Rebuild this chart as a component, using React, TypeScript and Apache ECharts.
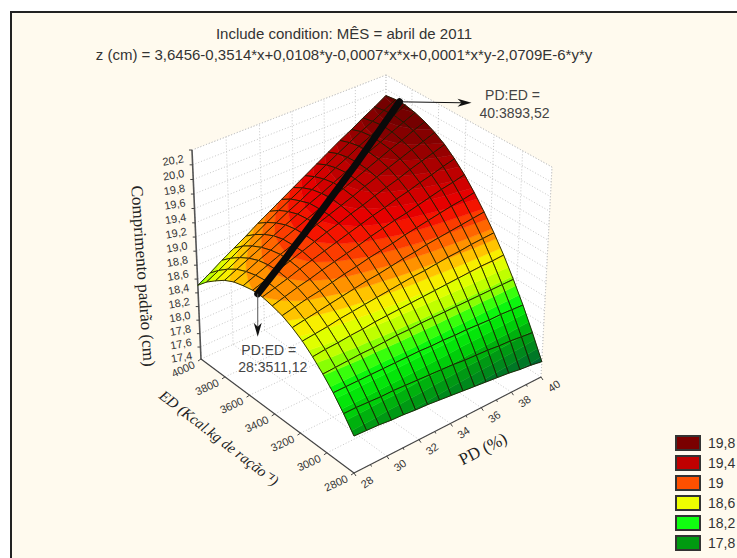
import React, { useEffect, useRef } from "react";
import * as echarts from "echarts";

const titleLines = [
  "Include condition: MÊS = abril de 2011",
  "z (cm) = 3,6456-0,3514*x+0,0108*y-0,0007*x*x+0,0001*x*y-2,0709E-6*y*y",
];

const pdGrid = [28, 28.75, 29.5, 30.25, 31, 31.75, 32.5, 33.25, 34, 34.75, 35.5, 36.25, 37, 37.75, 38.5, 39.25, 40];
const edGrid = [2800, 2875, 2950, 3025, 3100, 3175, 3250, 3325, 3400, 3475, 3550, 3625, 3700, 3775, 3850, 3925, 4000];

// Surface heights: one row per PD value, one column per ED value.
const zByPd = [
  [17.75, 17.96, 18.15, 18.31, 18.45, 18.57, 18.66, 18.73, 18.77, 18.8, 18.8, 18.77, 18.73, 18.66, 18.56, 18.45, 18.31],
  [17.74, 17.96, 18.15, 18.32, 18.47, 18.59, 18.69, 18.77, 18.82, 18.85, 18.86, 18.84, 18.8, 18.74, 18.65, 18.54, 18.41],
  [17.73, 17.95, 18.15, 18.33, 18.48, 18.61, 18.72, 18.81, 18.87, 18.9, 18.92, 18.91, 18.88, 18.82, 18.74, 18.64, 18.52],
  [17.71, 17.94, 18.15, 18.34, 18.5, 18.64, 18.75, 18.84, 18.91, 18.96, 18.98, 18.98, 18.95, 18.9, 18.83, 18.74, 18.62],
  [17.7, 17.94, 18.15, 18.34, 18.51, 18.66, 18.78, 18.88, 18.96, 19.01, 19.04, 19.04, 19.03, 18.99, 18.92, 18.83, 18.72],
  [17.68, 17.93, 18.15, 18.35, 18.53, 18.68, 18.81, 18.92, 19.0, 19.06, 19.1, 19.11, 19.1, 19.07, 19.01, 18.93, 18.83],
  [17.67, 17.92, 18.15, 18.36, 18.54, 18.7, 18.84, 18.95, 19.04, 19.11, 19.16, 19.18, 19.17, 19.15, 19.1, 19.03, 18.93],
  [17.65, 17.91, 18.15, 18.36, 18.55, 18.72, 18.86, 18.99, 19.08, 19.16, 19.21, 19.24, 19.24, 19.23, 19.18, 19.12, 19.03],
  [17.63, 17.9, 18.14, 18.37, 18.56, 18.74, 18.89, 19.02, 19.13, 19.21, 19.27, 19.3, 19.32, 19.3, 19.27, 19.21, 19.13],
  [17.61, 17.89, 18.14, 18.37, 18.57, 18.76, 18.92, 19.05, 19.17, 19.26, 19.32, 19.36, 19.38, 19.38, 19.35, 19.3, 19.23],
  [17.59, 17.87, 18.13, 18.37, 18.58, 18.77, 18.94, 19.09, 19.21, 19.3, 19.38, 19.43, 19.45, 19.46, 19.44, 19.4, 19.33],
  [17.57, 17.86, 18.13, 18.37, 18.59, 18.79, 18.97, 19.12, 19.24, 19.35, 19.43, 19.49, 19.52, 19.53, 19.52, 19.49, 19.43],
  [17.55, 17.85, 18.12, 18.37, 18.6, 18.81, 18.99, 19.15, 19.28, 19.39, 19.48, 19.55, 19.59, 19.61, 19.61, 19.58, 19.53],
  [17.53, 17.83, 18.11, 18.37, 18.61, 18.82, 19.01, 19.18, 19.32, 19.44, 19.54, 19.61, 19.66, 19.68, 19.69, 19.67, 19.62],
  [17.5, 17.82, 18.11, 18.37, 18.62, 18.84, 19.03, 19.21, 19.36, 19.48, 19.59, 19.67, 19.72, 19.76, 19.77, 19.75, 19.72],
  [17.48, 17.8, 18.1, 18.37, 18.62, 18.85, 19.05, 19.23, 19.39, 19.53, 19.64, 19.72, 19.79, 19.83, 19.85, 19.84, 19.81],
  [17.45, 17.78, 18.09, 18.37, 18.63, 18.86, 19.07, 19.26, 19.43, 19.57, 19.69, 19.78, 19.85, 19.9, 19.93, 19.93, 19.91],
];

// Optimum line: [PD, ED, z]
const ridgeLine = [
  [28, 3511, 18.8], [28.75, 3535, 18.86], [29.5, 3559, 18.92], [30.25, 3583, 18.98], [31, 3607, 19.05],
  [31.75, 3631, 19.11], [32.5, 3655, 19.18], [33.25, 3678, 19.25], [34, 3702, 19.32], [34.75, 3726, 19.39],
  [35.5, 3750, 19.46], [36.25, 3774, 19.53], [37, 3798, 19.61], [37.75, 3822, 19.69], [38.5, 3846, 19.77],
  [39.25, 3870, 19.85], [40, 3894, 19.93],
];

const pdTicks = [28, 30, 32, 34, 36, 38, 40];
const pdMinorTicks = [29, 31, 33, 35, 37, 39];
const edTicks = [2800, 3000, 3200, 3400, 3600, 3800, 4000];
const zTicks = [17.4, 17.6, 17.8, 18, 18.2, 18.4, 18.6, 18.8, 19, 19.2, 19.4, 19.6, 19.8, 20, 20.2];

const legendLabels = ["19,8", "19,4", "19", "18,6", "18,2", "17,8"];
const legendColors = ["#7a0000", "#c00000", "#ff5000", "#eeff00", "#10ff10", "#009a10"];

const colorLevels = [17.2, 17.4, 17.6, 17.8, 18.0, 18.2, 18.4, 18.6, 18.7, 18.8, 19.0, 19.2, 19.4, 19.6, 19.8, 20.0, 20.3];
const colorStops = ["#005540", "#006038", "#008020", "#00a210", "#00dc08", "#10ff10", "#b0ff00", "#f0ff00", "#ffe000", "#ffa800", "#ff5000", "#f00000", "#c80000", "#a00000", "#7c0000", "#600000", "#500000"];

const PD_MIN = 28, PD_MAX = 40, ED_MIN = 2800, ED_MAX = 4000, Z_MIN = 17.22, Z_MAX = 20.2;
const BAND = 0.1;

// One-point-per-axis perspective of the plot box
const ORIGIN = [354, 473];
const VP_U = [3397, -1089], VP_V = [-1823, -1149], VP_W = [355, 3931];
const K_U = 0.06548, K_V = 0.07559, K_W = -0.05945;

function project(pd: number, ed: number, z: number) {
  const u = (pd - PD_MIN) / (PD_MAX - PD_MIN);
  const v = (ed - ED_MIN) / (ED_MAX - ED_MIN);
  const w = (z - Z_MIN) / (Z_MAX - Z_MIN);
  const d = 1 + K_U * u + K_V * v + K_W * w;
  return [
    (ORIGIN[0] + K_U * u * VP_U[0] + K_V * v * VP_V[0] + K_W * w * VP_W[0]) / d,
    (ORIGIN[1] + K_U * u * VP_U[1] + K_V * v * VP_V[1] + K_W * w * VP_W[1]) / d,
  ];
}

function hexToRgb(h: string) {
  return [parseInt(h.slice(1, 3), 16), parseInt(h.slice(3, 5), 16), parseInt(h.slice(5, 7), 16)];
}
function colorAt(z: number) {
  let k = 0;
  while (k < colorLevels.length - 2 && z > colorLevels[k + 1]) k++;
  const t = Math.max(0, Math.min(1, (z - colorLevels[k]) / (colorLevels[k + 1] - colorLevels[k])));
  const a = hexToRgb(colorStops[k]), b = hexToRgb(colorStops[k + 1]);
  return `rgb(${a.map((c, i) => Math.round(c + (b[i] - c) * t)).join(",")})`;
}

type P3 = number[];
function clipZ(poly: P3[], level: number, above: boolean) {
  const out: P3[] = [];
  const inside = (p: P3) => (above ? p[2] >= level : p[2] <= level);
  for (let i = 0; i < poly.length; i++) {
    const a = poly[i], b = poly[(i + 1) % poly.length];
    if (inside(a)) out.push(a);
    if (inside(a) !== inside(b)) {
      const t = (level - a[2]) / (b[2] - a[2]);
      out.push([a[0] + (b[0] - a[0]) * t, a[1] + (b[1] - a[1]) * t, level]);
    }
  }
  return out;
}

const cellOrder: number[][] = [];
for (let i = pdGrid.length - 2; i >= 0; i--) {
  for (let j = edGrid.length - 2; j >= 0; j--) cellOrder.push([i, j]);
}

const FONT = '"Liberation Sans", Arial, sans-serif';
const SERIF = '"Liberation Serif", "Times New Roman", serif';

function renderBox(_: any, api: any) {
  const c = (p: number[]) => api.coord(p);
  const P = (pd: number, ed: number, z: number) => c(project(pd, ed, z));
  const kids: any[] = [];
  const poly = (pts: number[][]) =>
    kids.push({ type: "polygon", shape: { points: pts }, style: { fill: "#ffffff", stroke: null } });
  poly([P(PD_MIN, ED_MIN, Z_MIN), P(PD_MAX, ED_MIN, Z_MIN), P(PD_MAX, ED_MAX, Z_MIN), P(PD_MIN, ED_MAX, Z_MIN)]);
  poly([P(PD_MIN, ED_MAX, Z_MIN), P(PD_MAX, ED_MAX, Z_MIN), P(PD_MAX, ED_MAX, Z_MAX), P(PD_MIN, ED_MAX, Z_MAX)]);
  poly([P(PD_MAX, ED_MIN, Z_MIN), P(PD_MAX, ED_MAX, Z_MIN), P(PD_MAX, ED_MAX, Z_MAX), P(PD_MAX, ED_MIN, Z_MAX)]);

  const dotted = (a: number[], b: number[]) =>
    kids.push({
      type: "line",
      shape: { x1: a[0], y1: a[1], x2: b[0], y2: b[1] },
      style: { stroke: "#c8c8c8", lineWidth: 1, lineDash: [1, 2] },
    });
  const solid = (a: number[], b: number[], w = 1, col = "#444") =>
    kids.push({
      type: "line",
      shape: { x1: a[0], y1: a[1], x2: b[0], y2: b[1] },
      style: { stroke: col, lineWidth: w },
    });
  const label = (text: string, p: number[], dx: number, dy: number, deg: number, font: string, fill = "#333") =>
    kids.push({
      type: "text",
      x: p[0] + dx,
      y: p[1] + dy,
      rotation: (deg * Math.PI) / 180,
      style: { text, font, fill, align: "center", verticalAlign: "middle" },
    });

  zTicks.forEach((z) => {
    dotted(P(PD_MIN, ED_MAX, z), P(PD_MAX, ED_MAX, z));
    dotted(P(PD_MAX, ED_MAX, z), P(PD_MAX, ED_MIN, z));
  });
  pdTicks.forEach((pd) => {
    dotted(P(pd, ED_MIN, Z_MIN), P(pd, ED_MAX, Z_MIN));
    dotted(P(pd, ED_MAX, Z_MIN), P(pd, ED_MAX, Z_MAX));
  });
  edTicks.forEach((ed) => {
    dotted(P(PD_MIN, ed, Z_MIN), P(PD_MAX, ed, Z_MIN));
    dotted(P(PD_MAX, ed, Z_MIN), P(PD_MAX, ed, Z_MAX));
  });
  dotted(P(PD_MIN, ED_MAX, Z_MAX), P(PD_MAX, ED_MAX, Z_MAX));
  dotted(P(PD_MAX, ED_MAX, Z_MAX), P(PD_MAX, ED_MIN, Z_MAX));
  dotted(P(PD_MAX, ED_MIN, Z_MIN), P(PD_MAX, ED_MIN, Z_MAX));

  solid(P(PD_MIN, ED_MIN, Z_MIN), P(PD_MAX, ED_MIN, Z_MIN), 1.2, "#444");
  solid(P(PD_MIN, ED_MIN, Z_MIN), P(PD_MIN, ED_MAX, Z_MIN), 1.2, "#444");
  solid(P(PD_MIN, ED_MAX, Z_MIN), P(PD_MIN, ED_MAX, Z_MAX), 1.6, "#555");

  zTicks.forEach((z) => {
    const p = P(PD_MIN, ED_MAX, z);
    solid(p, [p[0] - 3, p[1]], 1, "#444");
    label(z.toFixed(1).replace(".", ","), p, -19, 10, 10, `11px ${FONT}`);
  });
  pdTicks.forEach((pd) => {
    const p = P(pd, ED_MIN, Z_MIN);
    solid(p, [p[0] + 2, p[1] + 3], 1, "#444");
    label(String(pd), p, 13, 9, 35, `11px ${FONT}`);
  });
  pdMinorTicks.forEach((pd) => {
    const p = P(pd, ED_MIN, Z_MIN);
    solid(p, [p[0] + 1, p[1] + 2], 1, "#444");
  });
  edTicks.forEach((ed) => {
    const p = P(PD_MIN, ed, Z_MIN);
    solid(p, [p[0] - 3, p[1] + 2], 1, "#444");
    label(String(ed), p, -18, 10, 25, `11px ${FONT}`);
  });

  const origin = c([0, 0]);
  label("Comprimento padrão (cm)", origin, 143, 276, -86, `17px ${SERIF}`, "#222");
  label("ED (Kcal.kg de ração⁻¹)", origin, 219, 438, -37.6, `italic 15px ${SERIF}`, "#222");
  label("PD (%)", origin, 483, 449, 27, `17px ${SERIF}`, "#222");
  return { type: "group", children: kids };
}

function renderCell(params: any, api: any) {
  const [i, j] = cellOrder[params.dataIndex];
  const quad: P3[] = [
    [pdGrid[i], edGrid[j], zByPd[i][j]],
    [pdGrid[i + 1], edGrid[j], zByPd[i + 1][j]],
    [pdGrid[i + 1], edGrid[j + 1], zByPd[i + 1][j + 1]],
    [pdGrid[i], edGrid[j + 1], zByPd[i][j + 1]],
  ];
  const toScreen = (q: P3) => api.coord(project(q[0], q[1], q[2]));
  const zs = quad.map((q) => q[2]);
  const lo = Math.min(...zs), hi = Math.max(...zs);
  const kids: any[] = [];
  for (let b = Math.floor(lo / BAND); b * BAND < hi; b++) {
    const from = b * BAND, to = (b + 1) * BAND;
    const piece = clipZ(clipZ(quad, from, true), to, false);
    if (piece.length < 3) continue;
    const col = colorAt(from + BAND / 2);
    kids.push({
      type: "polygon",
      shape: { points: piece.map(toScreen) },
      style: { fill: col, stroke: col, lineWidth: 0.5 },
    });
  }
  kids.push({
    type: "polygon",
    shape: { points: quad.map(toScreen) },
    style: { fill: "none", stroke: "#1c1c00", lineWidth: 0.9 },
  });
  return { type: "group", children: kids };
}

function renderRidge(_: any, api: any) {
  return {
    type: "polyline",
    shape: { points: ridgeLine.map((r) => api.coord(project(r[0], r[1], r[2]))) },
    style: { stroke: "#0a0a0a", lineWidth: 7, fill: "none", lineCap: "round", lineJoin: "round" },
  };
}

function renderNotes(_: any, api: any) {
  const a = ridgeLine[ridgeLine.length - 1], b = ridgeLine[0];
  const hi = api.coord(project(a[0], a[1], a[2]));
  const lo = api.coord(project(b[0], b[1], b[2]));
  const hiTip = [hi[0] + 72, hi[1] + 1];
  const loTip = [lo[0], lo[1] + 43];
  const text = (s: string, p: number[], dx: number, dy: number) => ({
    type: "text",
    x: p[0] + dx,
    y: p[1] + dy,
    style: { text: s, font: `14px ${FONT}`, fill: "#444", align: "center", verticalAlign: "middle" },
  });
  return {
    type: "group",
    children: [
      { type: "line", shape: { x1: hi[0], y1: hi[1], x2: hiTip[0] - 8, y2: hiTip[1] }, style: { stroke: "#111", lineWidth: 1 } },
      {
        type: "polygon",
        shape: { points: [hiTip, [hiTip[0] - 14, hiTip[1] - 4], [hiTip[0] - 10, hiTip[1]], [hiTip[0] - 14, hiTip[1] + 4]] },
        style: { fill: "#111" },
      },
      { type: "line", shape: { x1: lo[0], y1: lo[1], x2: loTip[0], y2: loTip[1] - 8 }, style: { stroke: "#555", lineWidth: 1 } },
      {
        type: "polygon",
        shape: { points: [loTip, [loTip[0] - 4, loTip[1] - 14], [loTip[0], loTip[1] - 10], [loTip[0] + 4, loTip[1] - 14]] },
        style: { fill: "#111" },
      },
      text("PD:ED =", hi, 113, -7),
      text("40:3893,52", hi, 115, 11),
      text("PD:ED =", lo, 11, 56),
      text("28:3511,12", lo, 15, 73),
    ],
  };
}

export default function App() {
  const ref = useRef<HTMLDivElement>(null);
  useEffect(() => {
    document.body.style.margin = "0";
    const chart = echarts.init(ref.current!, undefined, { renderer: "svg" });
    const titleStyle = { fontSize: 15, fontWeight: "normal" as const, color: "#333", fontFamily: FONT };
    const none = (name: string, k: number) => ({
      type: "custom",
      name,
      coordinateSystem: "cartesian2d",
      data: [],
      renderItem: () => null,
      itemStyle: { color: legendColors[k], borderColor: "#333", borderWidth: 1.5 },
    });
    chart.setOption({
      animation: false,
      backgroundColor: "#ffffff",
      graphic: [
        {
          type: "rect",
          z: -10,
          shape: { x: 11, y: 12, width: 740, height: 560 },
          style: { fill: "#fffaee", stroke: "#222", lineWidth: 2 },
        },
      ],
      title: [
        { text: titleLines[0], left: 339, top: 21, textAlign: "center", textStyle: titleStyle },
        { text: titleLines[1], left: 339, top: 42, textAlign: "center", textStyle: titleStyle },
      ],
      legend: {
        orient: "vertical",
        left: 675,
        top: 435,
        itemWidth: 24,
        itemHeight: 14,
        itemGap: 4,
        padding: 0,
        selectedMode: false,
        icon: "rect",
        data: legendLabels,
        textStyle: { fontSize: 14, color: "#333", fontFamily: FONT, padding: [0, 0, 0, 3] },
      },
      grid: { left: 0, right: 0, top: 0, bottom: 0 },
      xAxis: { type: "value", min: 0, max: 737, show: false },
      yAxis: { type: "value", min: 0, max: 558, inverse: true, show: false },
      series: [
        ...legendLabels.map((n, k) => none(n, k)),
        { type: "custom", name: "box", silent: true, clip: false, data: [[0, 0]], renderItem: renderBox, z: 2 },
        { type: "custom", name: "surface", silent: true, clip: false, data: cellOrder, renderItem: renderCell, z: 3 },
        { type: "custom", name: "optimum", silent: true, clip: false, data: [[0, 0]], renderItem: renderRidge, z: 4 },
        { type: "custom", name: "notes", silent: true, clip: false, data: [[0, 0]], renderItem: renderNotes, z: 5 },
      ],
    });
    return () => chart.dispose();
  }, []);
  return <div ref={ref} style={{ width: 737, height: 558 }} />;
}
